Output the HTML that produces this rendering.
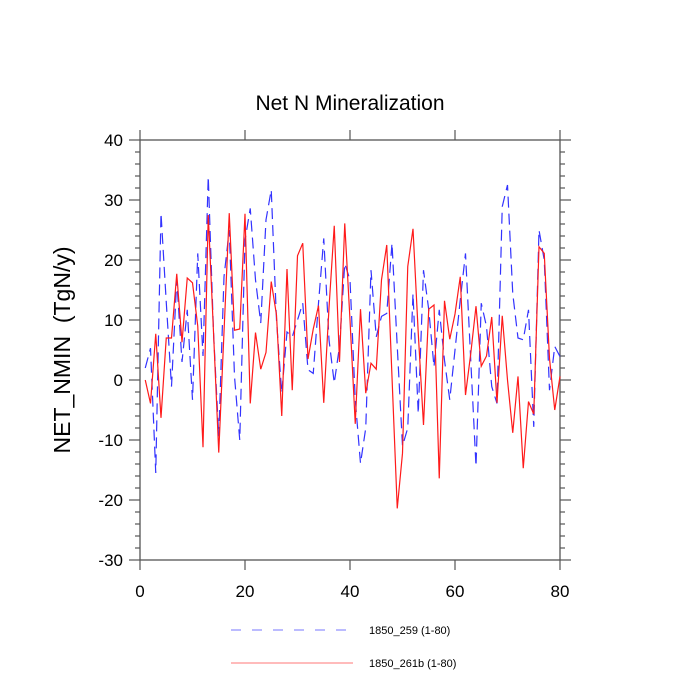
<!DOCTYPE html>
<html><head><meta charset="utf-8"><style>
html,body{margin:0;padding:0;background:#fff;}
svg{display:block;font-family:"Liberation Sans",sans-serif;}
</style></head><body>
<svg id="chart" width="700" height="700" viewBox="0 0 700 700">
<text x="350" y="110" text-anchor="middle" font-size="21">Net N Mineralization</text>
<text transform="translate(70,350) rotate(-90)" text-anchor="middle" font-size="23">NET_NMIN&#160; (TgN/y)</text>
<g id="axes"></g>
<g id="series"></g>
<g>
<line x1="231" y1="630" x2="350" y2="630" stroke="#7777ff" stroke-width="1" stroke-dasharray="10,11"/>
<text x="369" y="634" font-size="11">1850_259 (1-80)</text>
<line x1="231" y1="663" x2="353" y2="663" stroke="#ff7777" stroke-width="1"/>
<text x="369" y="667" font-size="11">1850_261b (1-80)</text>
</g>
</svg>
<script>
const xTicks = [0, 20, 40, 60, 80];
const yTicks = [-30, -20, -10, 0, 10, 20, 30, 40];
const blueValues = [2,5.3,-15.5,27.8,13,-1.1,16.7,3,11.7,-3.3,21.1,4,33.9,8,-9.4,17.2,25,0.6,-10,23.3,28.6,16.7,9.5,26.7,31.7,10,-2.2,8,7.2,10,12.8,1.7,1.1,12.8,23.6,6.7,-0.5,5.6,19.4,16.7,-3.3,-13.9,-8,18.3,7.2,10.6,11.1,22.8,5.6,-11,-8,14.4,-5.6,18.3,11.7,2.2,11.7,3.3,-3.3,5,13.3,21.1,3.3,-14.4,12.8,8.9,-1.1,-3.9,28.9,32.5,14.4,7,6.7,11.7,-7.8,25,20,-1.7,5.6,3.9];
const redValues = [0,-3.9,7.7,-6.3,7,7,17.7,6.3,17,16.2,9,-11.2,27.5,8,-12.1,8,27.8,8.3,8.5,27.7,-3.9,7.9,1.8,4.6,16.4,10.8,-6,18.5,-1.7,20.7,22.8,3.5,8.5,12.4,-3.8,12,25.7,3,26.1,10,-7.3,11.8,-2.2,2.8,1.8,16.7,22.5,0.5,-21.4,-12.2,18.9,25.2,7.8,-7.5,11.8,12.5,-16.4,13.2,6.8,11,17.2,-2.5,4.4,12.3,2.3,4,10.5,-3.8,10.7,0,-8.8,0.6,-14.7,-3.6,-5.7,22.2,21.1,3.6,-5,0.6];

const X0=140,X1=560,Y0=560,Y1=140;
const xs = v => X0 + (v-0)/(80-0)*(X1-X0);
const ys = v => Y0 - (v+30)/(70)*(Y0-Y1);
const NS="http://www.w3.org/2000/svg";
function mk(tag, attrs, parent){const e=document.createElementNS(NS,tag);for(const k in attrs)e.setAttribute(k,attrs[k]);parent.appendChild(e);return e;}
const axes=document.getElementById('axes');
const ac="#555";
const frame=mk('rect',{x:X0,y:Y1,width:X1-X0,height:Y0-Y1,fill:'none',stroke:ac,'stroke-width':1.3},axes);


for(let v=-30; v<=40; v+=2){
  const y=ys(v); const major = (v%10===0);
  const L = major?11:5;
  const t1=mk('line',{x1:X0-L,y1:y,x2:X0,y2:y,stroke:ac,'stroke-width':1.2},axes);
  
  
  const t2=mk('line',{x1:X1,y1:y,x2:X1+L,y2:y,stroke:ac,'stroke-width':1.2},axes);
  
  
}
yTicks.forEach(v=>{
  const t=mk('text',{x:123,y:ys(v)+6,'text-anchor':'end','font-size':17},axes);
  t.textContent=v;
  
  
});
xTicks.forEach(v=>{
  const x=xs(v);
  const t1=mk('line',{x1:x,y1:Y0,x2:x,y2:Y0+10,stroke:ac,'stroke-width':1.2},axes);
  
  
  const t2=mk('line',{x1:x,y1:Y1-10,x2:x,y2:Y1,stroke:ac,'stroke-width':1.2},axes);
  
  
  const t=mk('text',{x:x,y:597,'text-anchor':'middle','font-size':17},axes);
  t.textContent=v;
  
  
});
const series=document.getElementById('series');
function pts(arr){return arr.map((v,i)=>xs(i+1).toFixed(2)+','+ys(v).toFixed(2)).join(' ');}
const bl=mk('polyline',{points:pts(blueValues),fill:'none',stroke:'#3333ff','stroke-width':1.2,'stroke-dasharray':'11,6'},series);


const rl=mk('polyline',{points:pts(redValues),fill:'none',stroke:'#ff1a1a','stroke-width':1.2},series);


</script>
</body></html>
